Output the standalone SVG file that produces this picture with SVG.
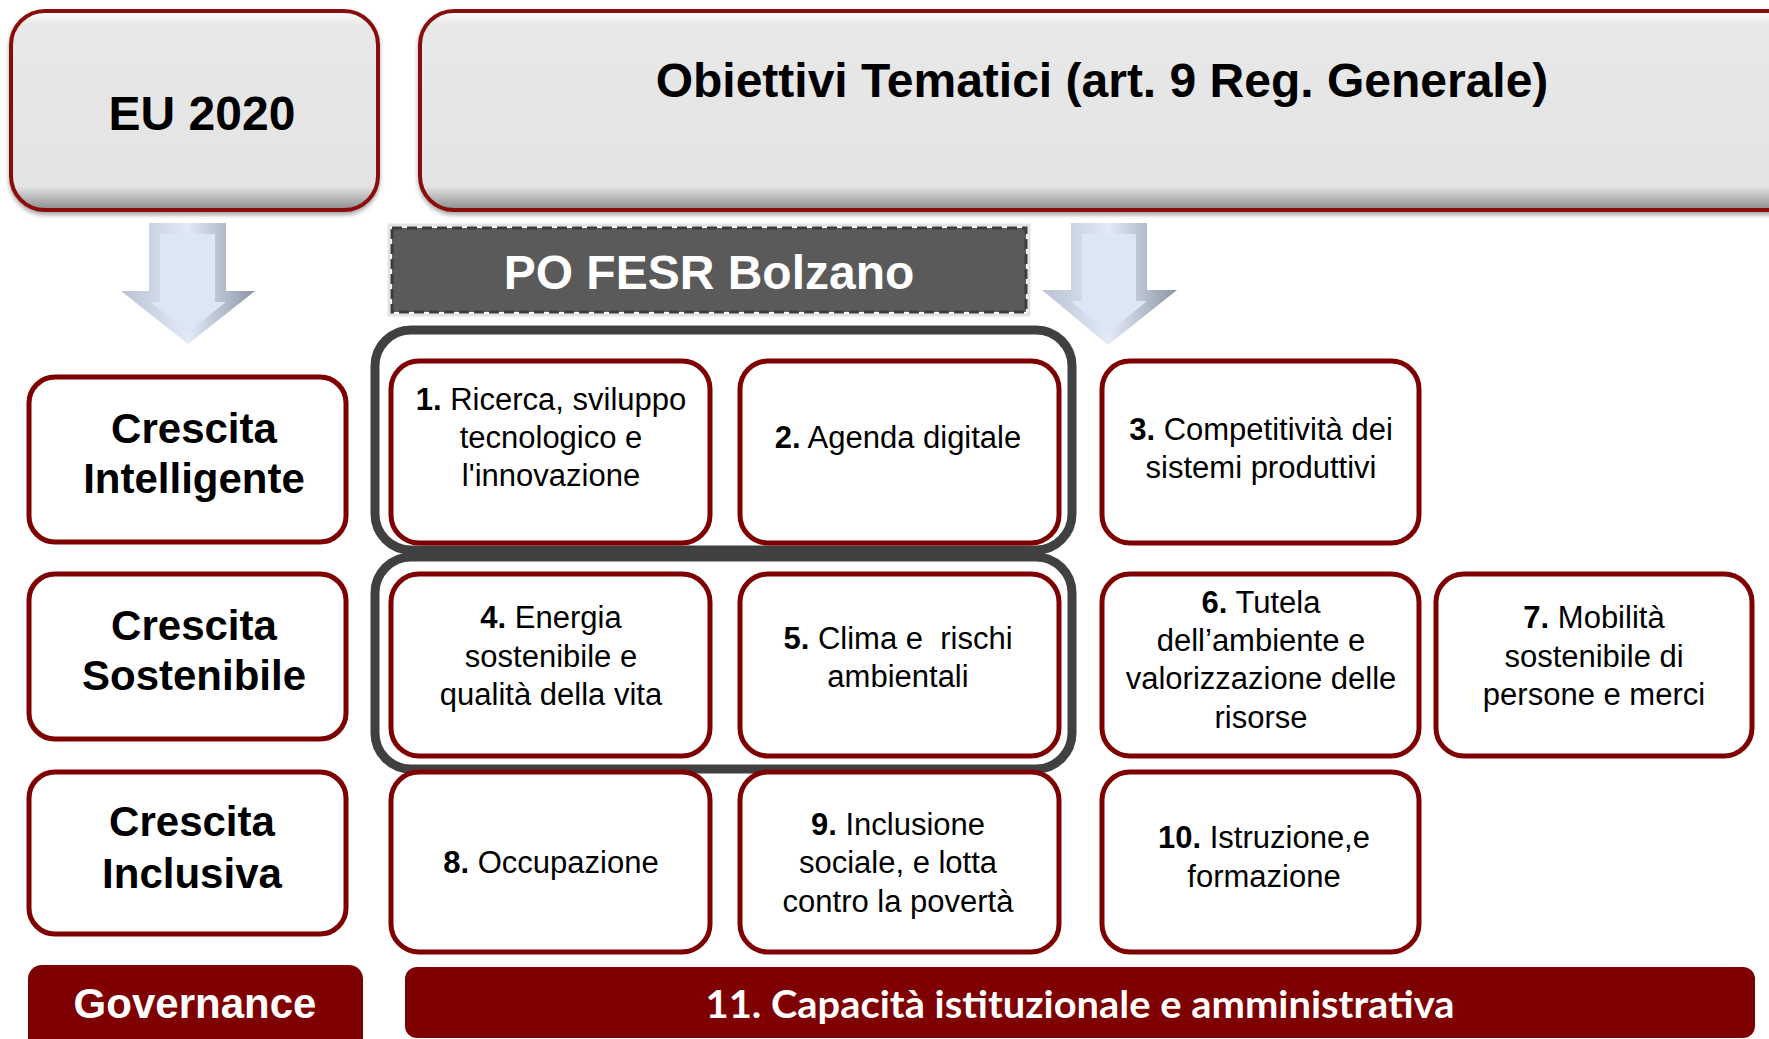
<svg xmlns="http://www.w3.org/2000/svg" width="1769" height="1039" viewBox="0 0 1769 1039">
<style>
.hdr{fill:url(#gray);stroke:#8a1010;stroke-width:4}
.box{fill:#ffffff;stroke:#7f0000;stroke-width:5}
.cont{fill:none;stroke:#404040;stroke-width:9}
.bar{fill:#7f0000}
.t{font-family:"Liberation Sans",Arial,sans-serif;fill:#000;text-anchor:middle}
.big{font-size:48px;font-weight:bold}
.cat{font-size:42px;font-weight:bold}
.bt{font-size:31px}
.b{font-weight:bold}
.w{fill:#ffffff}
</style>
<defs>
<linearGradient id="gray" x1="0" y1="0" x2="0" y2="1">
<stop offset="0" stop-color="#ffffff"/>
<stop offset="0.07" stop-color="#e8e8e8"/>
<stop offset="0.88" stop-color="#e4e4e4"/>
<stop offset="1" stop-color="#8c8c8c"/>
</linearGradient>
<linearGradient id="arr" x1="0" y1="0" x2="1" y2="0">
<stop offset="0" stop-color="#b9c2d2"/>
<stop offset="0.5" stop-color="#e2eaf7"/>
<stop offset="1" stop-color="#8c95a6"/>
</linearGradient>
<filter id="sh" x="-5%" y="-5%" width="110%" height="115%">
<feDropShadow dx="0" dy="3" stdDeviation="2" flood-color="#000" flood-opacity="0.35"/>
</filter>
</defs>

<g id="eu2020">
<rect class="hdr" x="11" y="11" width="367" height="199" rx="34" filter="url(#sh)"/>
<text class="t big" x="202" y="130">EU 2020</text>
</g>

<g id="obiettivi">
<rect class="hdr" x="420" y="11" width="1390" height="199" rx="34" filter="url(#sh)"/>
<text class="t big" x="1102" y="97">Obiettivi Tematici (art. 9 Reg. Generale)</text>
</g>

<g id="arrows">
<polygon points="149,223 226,223 226,291 255,291 188,344 121,291 149,291" fill="url(#arr)"/>
<polygon points="160,234 215,234 215,302 226,302 188,332 150,302 160,302" fill="#dce6f5"/>
<polygon points="1071,223 1147,223 1147,290 1177,290 1108,345 1042,290 1071,290" fill="url(#arr)"/>
<polygon points="1082,234 1136,234 1136,301 1147,301 1108,333 1071,301 1082,301" fill="#dce6f5"/>
</g>

<g id="pofesr">
<rect x="389" y="225" width="640" height="90" fill="none" stroke="#e3e3e3" stroke-width="3"/>
<rect x="392" y="228" width="634" height="84" fill="#5a5a5a" stroke="#3c3c3c" stroke-width="3" stroke-dasharray="10 5"/>
<text class="t big w" x="709" y="289">PO FESR Bolzano</text>
</g>

<g id="containers">
<rect class="cont" x="375" y="330" width="697" height="220" rx="36"/>
<rect class="cont" x="375" y="557" width="697" height="212" rx="36"/>
</g>

<g id="cat-intelligente">
<rect class="box" x="29" y="377" width="317" height="165" rx="26"/>
<text class="t cat" x="194" y="443">Crescita</text>
<text class="t cat" x="194" y="493">Intelligente</text>
</g>
<g id="cat-sostenibile">
<rect class="box" x="29" y="574" width="317" height="165" rx="26"/>
<text class="t cat" x="194" y="640">Crescita</text>
<text class="t cat" x="194" y="690">Sostenibile</text>
</g>
<g id="cat-inclusiva">
<rect class="box" x="29" y="772" width="317" height="162" rx="26"/>
<text class="t cat" x="192" y="836">Crescita</text>
<text class="t cat" x="192" y="888">Inclusiva</text>
</g>

<g id="ot1">
<rect class="box" x="391" y="361" width="319" height="182" rx="28"/>
<text class="t bt" x="551" y="410"><tspan class="b">1.</tspan> Ricerca, sviluppo</text>
<text class="t bt" x="551" y="448">tecnologico e</text>
<text class="t bt" x="551" y="486">l'innovazione</text>
</g>
<g id="ot2">
<rect class="box" x="740" y="361" width="319" height="182" rx="28"/>
<text class="t bt" x="898" y="448"><tspan class="b">2.</tspan> Agenda digitale</text>
</g>
<g id="ot3">
<rect class="box" x="1102" y="361" width="317" height="182" rx="28"/>
<text class="t bt" x="1261" y="440"><tspan class="b">3.</tspan> Competitività dei</text>
<text class="t bt" x="1261" y="478">sistemi produttivi</text>
</g>
<g id="ot4">
<rect class="box" x="391" y="574" width="319" height="182" rx="28"/>
<text class="t bt" x="551" y="628"><tspan class="b">4.</tspan> Energia</text>
<text class="t bt" x="551" y="667">sostenibile e</text>
<text class="t bt" x="551" y="705">qualità della vita</text>
</g>
<g id="ot5">
<rect class="box" x="740" y="574" width="319" height="182" rx="28"/>
<text class="t bt" x="898" y="649" xml:space="preserve"><tspan class="b">5.</tspan> Clima e  rischi</text>
<text class="t bt" x="898" y="687">ambientali</text>
</g>
<g id="ot6">
<rect class="box" x="1102" y="574" width="317" height="182" rx="28"/>
<text class="t bt" x="1261" y="613"><tspan class="b">6.</tspan> Tutela</text>
<text class="t bt" x="1261" y="651">dell’ambiente e</text>
<text class="t bt" x="1261" y="689">valorizzazione delle</text>
<text class="t bt" x="1261" y="728">risorse</text>
</g>
<g id="ot7">
<rect class="box" x="1436" y="574" width="316" height="182" rx="28"/>
<text class="t bt" x="1594" y="628"><tspan class="b">7.</tspan> Mobilità</text>
<text class="t bt" x="1594" y="667">sostenibile di</text>
<text class="t bt" x="1594" y="705">persone e merci</text>
</g>
<g id="ot8">
<rect class="box" x="391" y="772" width="319" height="180" rx="28"/>
<text class="t bt" x="551" y="873"><tspan class="b">8.</tspan> Occupazione</text>
</g>
<g id="ot9">
<rect class="box" x="740" y="772" width="319" height="180" rx="28"/>
<text class="t bt" x="898" y="835"><tspan class="b">9.</tspan> Inclusione</text>
<text class="t bt" x="898" y="873">sociale, e lotta</text>
<text class="t bt" x="898" y="912">contro la povertà</text>
</g>
<g id="ot10">
<rect class="box" x="1102" y="772" width="317" height="180" rx="28"/>
<text class="t bt" x="1264" y="848"><tspan class="b">10.</tspan> Istruzione,e</text>
<text class="t bt" x="1264" y="887">formazione</text>
</g>

<g id="governance">
<rect class="bar" x="28" y="965" width="335" height="90" rx="14"/>
<text class="t cat w" x="195" y="1018">Governance</text>
</g>
<g id="ot11">
<rect class="bar" x="405" y="967" width="1350" height="71" rx="12"/>
<text x="1080" y="1018" font-family="Lato,'Open Sans',sans-serif" font-weight="bold" font-size="38" fill="#ffffff" text-anchor="middle" textLength="749" lengthAdjust="spacingAndGlyphs">11. Capacità istituzionale e amministrativa</text>
</g>
</svg>
